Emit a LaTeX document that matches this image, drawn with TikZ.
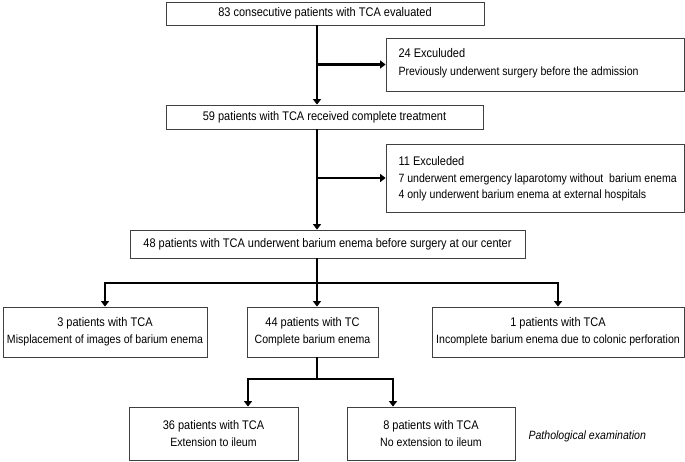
\documentclass[tikz,border=0pt]{standalone}
\usepackage{fontspec}
\setmainfont[FakeStretch=0.88]{Liberation Sans}
\usetikzlibrary{arrows.meta}
\begin{document}
\begin{tikzpicture}[x=1pt,y=-1pt,
  box/.style={draw=black!75,line width=0.8pt,rectangle,inner sep=0pt,align=center,font=\fontsize{12.5}{17}\selectfont},
  conn/.style={line width=2.8pt,-{Triangle[width=8pt,length=5.5pt]}},
  seg/.style={line width=2.8pt},
  head/.style={font=\fontsize{12.5}{15}\selectfont},
  sub/.style={font=\fontsize{12}{15}\selectfont}]
\useasboundingbox (0,0) rectangle (685,462);
\coordinate (main) at (317,0);
\node[box,minimum width=318pt,minimum height=23pt] (b1) at (325,13.5) {83 consecutive patients with TCA evaluated};
\node[box,minimum width=298pt,minimum height=53pt] (ex1) at (535,64.5) {};
\node[head,anchor=base west] at (395,58) {24 Exculuded};
\node[sub,anchor=base west] at (395,76) {Previously underwent surgery before the admission};
\node[box,minimum width=317pt,minimum height=24pt] (b2) at (324.5,117) {59 patients with TCA received complete treatment};
\node[box,minimum width=298pt,minimum height=68pt] (ex2) at (535,178) {};
\node[head,anchor=base west] at (395,166) {11 Exculeded};
\node[sub,anchor=base west] at (395,183) {7 underwent emergency laparotomy without\ \ barium enema};
\node[sub,anchor=base west] at (395,199) {4 only underwent barium enema at external hospitals};
\node[box,minimum width=395pt,minimum height=28pt] (b3) at (327.5,244) {48 patients with TCA underwent barium enema before surgery at our center};
\node[box,minimum width=204pt,minimum height=50pt] (L) at (105,332) {3 patients with TCA\\{\fontsize{12}{15}\selectfont Misplacement of images of barium enema}};
\node[box,minimum width=131pt,minimum height=50pt] (M) at (312.5,332) {44 patients with TC\\{\fontsize{12}{15}\selectfont Complete barium enema}};
\node[box,minimum width=252pt,minimum height=50pt] (R) at (558,332) {1 patients with TCA\\{\fontsize{12}{15}\selectfont Incomplete barium enema due to colonic perforation}};
\node[box,minimum width=169pt,minimum height=53pt] (BL) at (213.5,433.5) {36 patients with TCA\\{\fontsize{12}{15}\selectfont Extension to ileum}};
\node[box,minimum width=168pt,minimum height=53pt] (BR) at (431,433.5) {8 patients with TCA\\{\fontsize{12}{15}\selectfont No extension to ileum}};
\node[anchor=west,font=\fontsize{12}{15}\selectfont\itshape] (pe) at (525,436) {Pathological examination};
% connectors
\coordinate (j1) at (105,283);
\coordinate (j2) at (558,283);
\coordinate (k1) at (248,379);
\coordinate (k2) at (393,379);
\draw[conn] (main |- b1.south) -- (main |- b2.north);
\draw[conn] (main |- ex1.west) -- (ex1.west);
\draw[conn] (main |- b2.south) -- (main |- b3.north);
\draw[conn] (main |- ex2.west) -- (ex2.west);
\draw[seg] (main |- b3.south) -- (main |- j1);
\draw[seg,line cap=rect] (j1) -- (j2);
\draw[conn] (j1) -- (j1 |- L.north);
\draw[conn] (main |- j1) -- (main |- M.north);
\draw[conn] (j2) -- (j2 |- R.north);
\draw[seg] (main |- M.south) -- (main |- k1);
\draw[seg,line cap=rect] (k1) -- (k2);
\draw[conn] (k1) -- (k1 |- BL.north);
\draw[conn] (k2) -- (k2 |- BR.north);
\end{tikzpicture}
\end{document}
